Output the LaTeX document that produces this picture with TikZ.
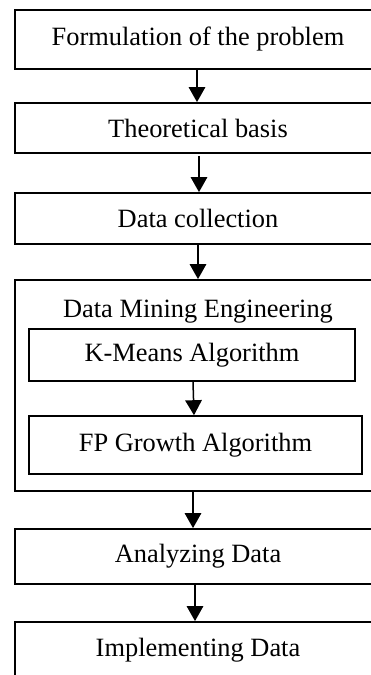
\documentclass[tikz,border=0pt]{standalone}
\usepackage{fontspec}
\setmainfont{Liberation Serif}
\usetikzlibrary{arrows.meta}
\begin{document}
\begin{tikzpicture}[x=1pt,y=-1pt,
  stage/.style={draw, line width=1.8pt, inner sep=0pt, minimum width=366pt,
    font=\fontsize{26.4}{30}\selectfont},
  algo/.style={draw, line width=1.6pt, inner sep=0pt,
    font=\fontsize{26.4}{30}\selectfont},
  arr/.style={line width=1.5pt, -{Triangle[width=16.5pt,length=15pt]}}]
\useasboundingbox (0,0) rectangle (371,675);
\clip (0,0) rectangle (371,675);
% main stages
\node[stage, minimum height=59pt] (b1) at (198,39.5) {Formulation of the problem};
\node[stage, minimum height=50pt] (b2) at (198,128) {Theoretical basis};
\node[stage, minimum height=51pt] (b3) at (198,218.5) {Data collection};
\node[stage, minimum height=211pt] (dm) at (198,385.5) {};
\node[anchor=base, font=\fontsize{26.4}{30}\selectfont, inner sep=0pt] (dmt) at (198,317) {Data Mining Engineering};
\node[algo, minimum width=326pt, minimum height=52pt] (km) at (192,355) {K-Means Algorithm};
\node[algo, minimum width=333pt, minimum height=58pt] (fp) at (195.5,445) {FP Growth Algorithm};
\node[stage, minimum height=55pt] (an) at (198,556.5) {Analyzing Data};
\node[stage, minimum height=56pt] (im) at (198,650) {Implementing Data};
% flow
\draw[arr] ([xshift=-1pt]b1.south) -- ([xshift=-1pt]b2.north);
\draw[arr, shorten <=2pt] ([xshift=1pt]b2.south) -- ([xshift=1pt]b3.north);
\draw[arr] (b3.south) -- (dm.north);
\draw[arr] ([xshift=1pt]km.south) -- ([xshift=-1.5pt]fp.north);
\draw[arr] ([xshift=-5pt]dm.south) -- ([xshift=-5pt]an.north);
\draw[arr] ([xshift=-3pt]an.south) -- ([xshift=-3pt]im.north);
\end{tikzpicture}
\end{document}
